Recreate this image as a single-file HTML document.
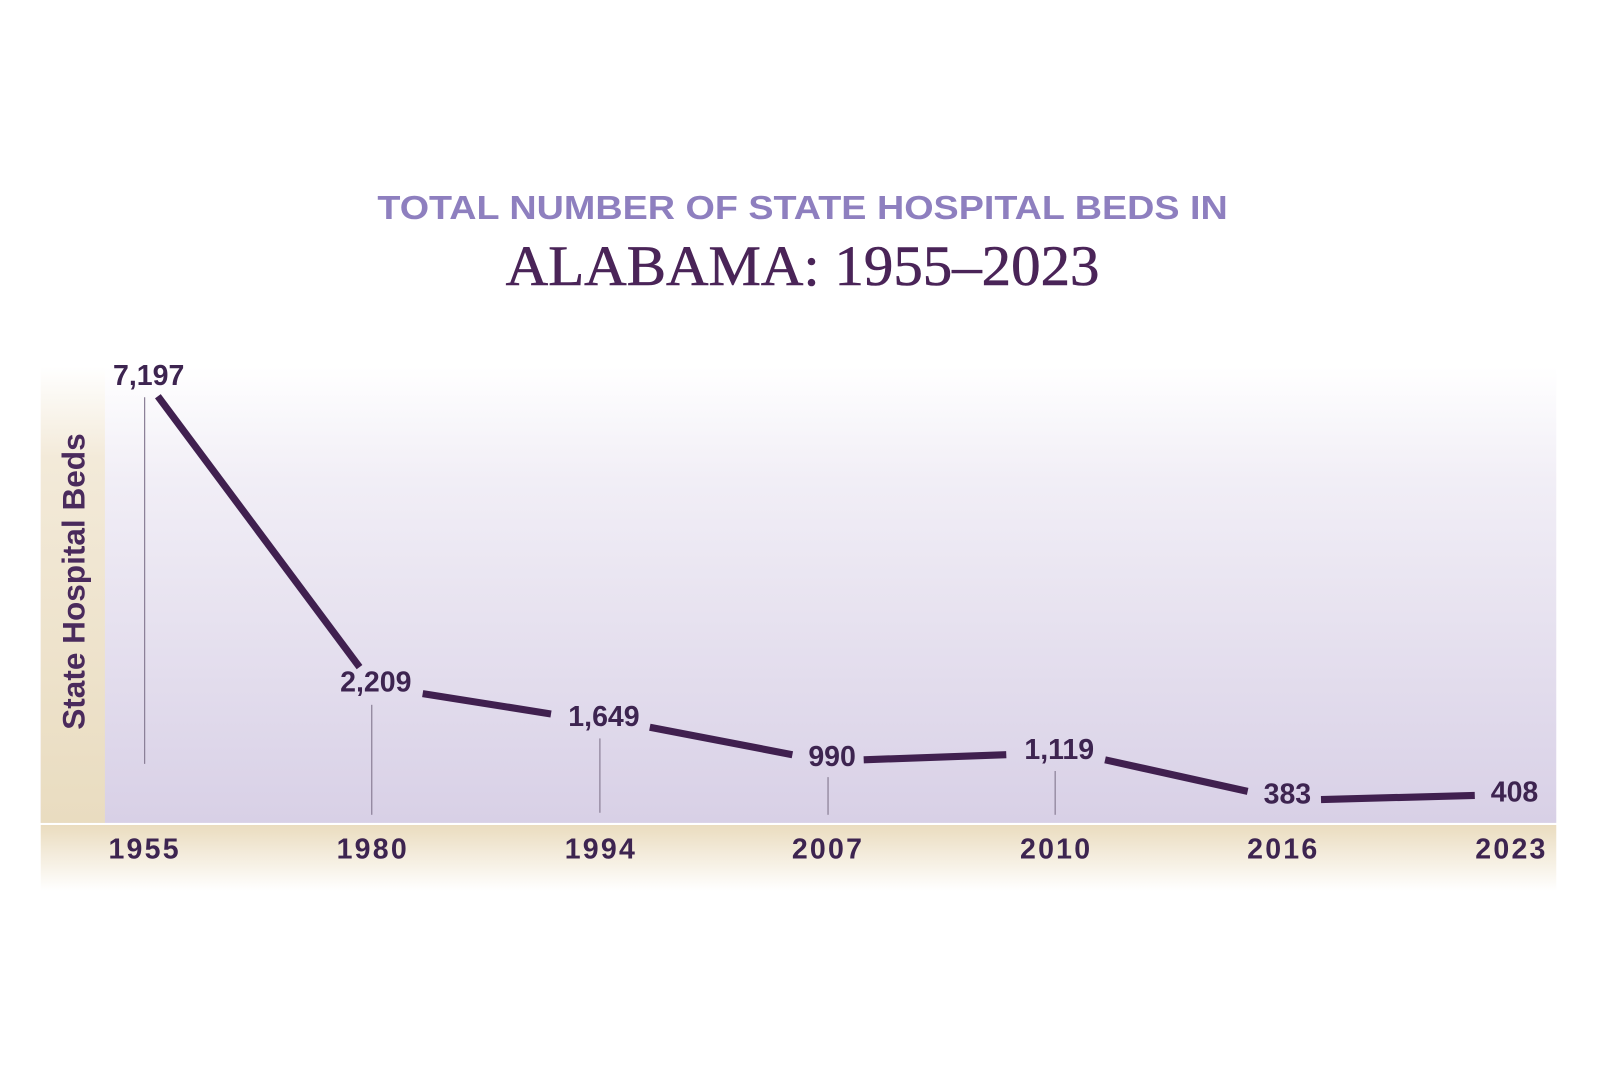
<!DOCTYPE html>
<html><head><meta charset="utf-8"><style>
html,body{margin:0;padding:0;background:#fff;}
svg{display:block;}
</style></head><body>
<svg width="1597" height="1080" viewBox="0 0 1597 1080" xmlns="http://www.w3.org/2000/svg">
<defs>
<linearGradient id="bg" x1="0" y1="0" x2="0" y2="1">
<stop offset="0" stop-color="#ffffff"/>
<stop offset="0.25" stop-color="#f1eef6"/>
<stop offset="1" stop-color="#d8d0e6"/>
</linearGradient>
<linearGradient id="lb" x1="0" y1="0" x2="0" y2="1">
<stop offset="0" stop-color="#ffffff"/>
<stop offset="0.2" stop-color="#f3ead9"/>
<stop offset="1" stop-color="#e9dcc0"/>
</linearGradient>
<linearGradient id="bb" x1="0" y1="0" x2="0" y2="1">
<stop offset="0" stop-color="#eadcbf"/>
<stop offset="1" stop-color="#ffffff"/>
</linearGradient>
</defs>
<g transform="scale(1.0185)">
<rect x="40" y="360" width="1488" height="448" fill="url(#bg)"/>
<rect x="40" y="360" width="63" height="448" fill="url(#lb)"/>
<rect x="40" y="810" width="1488" height="65" fill="url(#bb)"/>
<rect x="40" y="808" width="1488" height="2" fill="#ffffff"/>

<text x="788" y="215" text-anchor="middle" font-family="'Liberation Sans',sans-serif" font-weight="bold" font-size="33" fill="#8e7fbf" textLength="835" lengthAdjust="spacingAndGlyphs">TOTAL NUMBER OF STATE HOSPITAL BEDS IN</text>
<text x="788" y="280" text-anchor="middle" font-family="'Liberation Serif',serif" font-size="56" fill="#4a2458" stroke="#4a2458" stroke-width="0.6" textLength="583" lengthAdjust="spacingAndGlyphs">ALABAMA: 1955–2023</text>

<text transform="translate(83,571) rotate(-90)" text-anchor="middle" font-family="'Liberation Sans',sans-serif" font-weight="bold" font-size="31" fill="#4a2a5c">State Hospital Beds</text>

<g stroke="#8a7f96" stroke-width="1.2">
<line x1="142" y1="390" x2="142" y2="750"/>
<line x1="365" y1="692" x2="365" y2="800"/>
<line x1="589" y1="725" x2="589" y2="798"/>
<line x1="813" y1="763" x2="813" y2="800"/>
<line x1="1036" y1="757" x2="1036" y2="800"/>
</g>

<g stroke="#40204f" stroke-width="7" fill="none" stroke-linecap="butt">
<line x1="155" y1="389" x2="353" y2="655"/>
<line x1="415" y1="681" x2="541" y2="701"/>
<line x1="638" y1="714" x2="778" y2="741"/>
<line x1="848" y1="746" x2="988" y2="741"/>
<line x1="1085" y1="746" x2="1225" y2="777"/>
<line x1="1297" y1="785" x2="1448" y2="781"/>
</g>

<g font-family="'Liberation Sans',sans-serif" font-weight="bold" fill="#3d2450" font-size="28" text-anchor="middle">
<text x="146" y="378">7,197</text>
<text x="369" y="679">2,209</text>
<text x="593" y="713">1,649</text>
<text x="817" y="752">990</text>
<text x="1040" y="745">1,119</text>
<text x="1264" y="789">383</text>
<text x="1487" y="787">408</text>
</g>
<g font-family="'Liberation Sans',sans-serif" font-weight="bold" fill="#3d2450" font-size="28" text-anchor="middle" letter-spacing="2.2">
<text x="142" y="843">1955</text>
<text x="366" y="843">1980</text>
<text x="590" y="843">1994</text>
<text x="813" y="843">2007</text>
<text x="1037" y="843">2010</text>
<text x="1260" y="843">2016</text>
<text x="1484" y="843">2023</text>
</g>
</g>
</svg>
</body></html>
